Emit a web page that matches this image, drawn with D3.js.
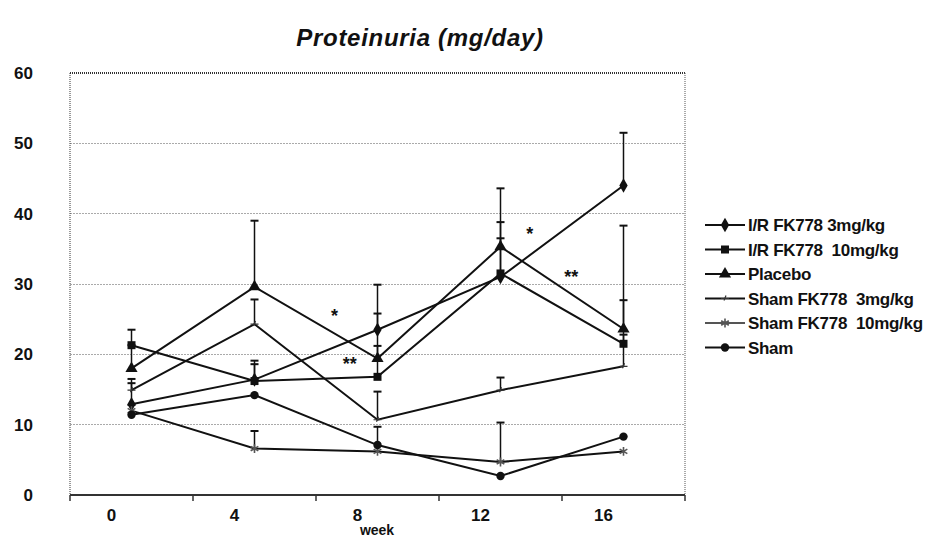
<!DOCTYPE html>
<html>
<head>
<meta charset="utf-8">
<script src="https://cdn.jsdelivr.net/npm/d3@7"></script>
<style>
body { margin: 0; background: #fff; }
svg { display: block; }
text { font-family: "Liberation Sans", Arial, sans-serif; font-weight: bold; fill: #111; }
</style>
</head>
<body>
<svg id="chart" width="927" height="540"></svg>
<script>
var weeks = [0, 4, 8, 12, 16];
var week_labels = ["0", "4", "8", "12", "16"];
var y_ticks = [0, 10, 20, 30, 40, 50, 60];
var x_edges = [-2, 2, 6, 10, 14, 18];

// means and upper SD
var ir_3mg      = [12.9, 16.4, 23.5, 31.0, 44.0];
var ir_3mg_sd   = [3.0, 2.7, 2.3, 5.5, 7.5];
var ir_10mg     = [21.3, 16.2, 16.8, 31.5, 21.5];
var ir_10mg_sd  = [2.2, 2.4, 4.4, 7.3, 6.2];
var placebo     = [18.0, 29.6, 19.4, 35.3, 23.6];
var placebo_sd  = [3.3, 9.4, 10.5, 8.3, 14.7];
var sham_3mg    = [14.9, 24.3, 10.7, 14.9, 18.3];
var sham_3mg_sd = [1.6, 3.5, 4.0, 1.8, 4.5];
var sham_10mg   = [12.0, 6.6, 6.2, 4.7, 6.2];
var sham_10mg_sd= [0.8, 2.5, 3.5, 5.6, 0];
var sham        = [11.4, 14.2, 7.1, 2.7, 8.3];
var sham_sd     = [0, 0, 0, 0, 0];

var series_names = ["I/R FK778 3mg/kg", "I/R FK778  10mg/kg", "Placebo", "Sham FK778  3mg/kg", "Sham FK778  10mg/kg", "Sham"];
var series_vals = [ir_3mg, ir_10mg, placebo, sham_3mg, sham_10mg, sham];
var series_sd = [ir_3mg_sd, ir_10mg_sd, placebo_sd, sham_3mg_sd, sham_10mg_sd, sham_sd];
var series_marks = ["diamond", "square", "triangle", "tick", "asterisk", "circle"];

var stars = [{"week": 6.6, "value": 26.0, "txt": "*"},
             {"week": 7.1, "value": 19.2, "txt": "**"},
             {"week": 12.95, "value": 37.7, "txt": "*"},
             {"week": 14.3, "value": 31.6, "txt": "**"}];

var svg = d3.select("#chart");
var x = d3.scaleLinear().domain([-2, 18]).range([70, 685]);
var y = d3.scaleLinear().domain([0, 60]).range([495, 73]);

svg.append("text").attr("x", 420).attr("y", 46).attr("text-anchor", "middle")
   .style("font-size", "24px").style("font-style", "italic").style("letter-spacing", "0.7px")
   .text("Proteinuria (mg/day)");

// grid
svg.append("g").selectAll("line").data(y_ticks.filter(function(d) { return d > 0 && d < 60; }))
   .enter().append("line")
   .attr("x1", x(-2)).attr("x2", x(18))
   .attr("y1", function(d) { return y(d); }).attr("y2", function(d) { return y(d); })
   .attr("stroke", "#aaa").attr("stroke-dasharray", "2 1").style("shape-rendering", "crispEdges");

// frame
svg.append("line").attr("x1", x(-2)).attr("x2", x(18)).attr("y1", y(60)).attr("y2", y(60))
   .attr("stroke", "#333").attr("stroke-width", 2).attr("stroke-dasharray", "1 1");
svg.append("line").attr("x1", x(18)).attr("x2", x(18)).attr("y1", y(60)).attr("y2", y(0))
   .attr("stroke", "#555").attr("stroke-dasharray", "1 1");
svg.append("line").attr("x1", x(-2)).attr("x2", x(-2)).attr("y1", y(60)).attr("y2", y(0))
   .attr("stroke", "#333").attr("stroke-dasharray", "1 1");
svg.append("line").attr("x1", x(-2)).attr("x2", x(18)).attr("y1", y(0)).attr("y2", y(0))
   .attr("stroke", "#333").attr("stroke-width", 2);

svg.append("g").selectAll("line").data(x_edges).enter().append("line")
   .attr("x1", function(d) { return x(d); }).attr("x2", function(d) { return x(d); })
   .attr("y1", y(0)).attr("y2", y(0) + 6).attr("stroke", "#333").attr("stroke-width", 1.5);

svg.append("g").selectAll("text").data(y_ticks).enter().append("text")
   .attr("x", 33).attr("y", function(d) { return y(d) + 6; })
   .attr("text-anchor", "end").style("font-size", "17px")
   .text(function(d) { return d; });

svg.append("g").selectAll("text").data(weeks).enter().append("text")
   .attr("x", function(d) { return x(d - 0.65); }).attr("y", 521)
   .attr("text-anchor", "middle").style("font-size", "17px")
   .text(function(d, i) { return week_labels[i]; });

svg.append("text").attr("x", 377).attr("y", 535).attr("text-anchor", "middle")
   .style("font-size", "14px").text("week");

function draw_mark(g, kind, cx, cy) {
   if (kind == "diamond") {
      g.append("path").attr("d", d3.symbol().type(d3.symbolDiamond).size(60)())
         .attr("transform", "translate(" + cx + "," + cy + ")").attr("fill", "#111");
   } else if (kind == "square") {
      g.append("path").attr("d", d3.symbol().type(d3.symbolSquare).size(64)())
         .attr("transform", "translate(" + cx + "," + cy + ")").attr("fill", "#111");
   } else if (kind == "triangle") {
      g.append("path").attr("d", d3.symbol().type(d3.symbolTriangle).size(64)())
         .attr("transform", "translate(" + cx + "," + cy + ")").attr("fill", "#111");
   } else if (kind == "circle") {
      g.append("circle").attr("cx", cx).attr("cy", cy).attr("r", 4.2).attr("fill", "#111");
   } else if (kind == "asterisk") {
      g.append("path").attr("d", d3.symbol().type(d3.symbolAsterisk).size(55)())
         .attr("transform", "translate(" + cx + "," + cy + ")")
         .attr("stroke", "#555").attr("stroke-width", 1.6).attr("fill", "none");
   } else {
      g.append("path").attr("d", "M-4,0L4,0M-1,2L1,-3")
         .attr("transform", "translate(" + cx + "," + cy + ")")
         .attr("stroke", "#333").attr("stroke-width", 1.2).attr("fill", "none");
   }
}

var line_gen = d3.line().x(function(d, i) { return x(weeks[i]); }).y(function(d) { return y(d); });

series_vals.forEach(function(vals, s) {
   var g = svg.append("g").attr("class", "series");
   // error bars (upper only)
   vals.forEach(function(v, i) {
      var sd = series_sd[s][i];
      if (sd <= 0) return;
      g.append("line").attr("x1", x(weeks[i])).attr("x2", x(weeks[i]))
         .attr("y1", y(v)).attr("y2", y(v + sd)).attr("stroke", "#111").attr("stroke-width", 1.5);
      g.append("line").attr("x1", x(weeks[i]) - 4).attr("x2", x(weeks[i]) + 4)
         .attr("y1", y(v + sd)).attr("y2", y(v + sd)).attr("stroke", "#111").attr("stroke-width", 2);
   });
   g.append("path").datum(vals).attr("d", line_gen)
      .attr("fill", "none").attr("stroke", "#111").attr("stroke-width", 2);
   vals.forEach(function(v, i) { draw_mark(g, series_marks[s], x(weeks[i]), y(v)); });
});

svg.append("g").selectAll("text").data(stars).enter().append("text")
   .attr("x", function(d) { return x(d.week); }).attr("y", function(d) { return y(d.value); })
   .attr("dy", "0.55em").attr("text-anchor", "middle").style("font-size", "18px")
   .text(function(d) { return d.txt; });

// legend
var legend = svg.append("g").attr("transform", "translate(705,225)");
series_names.forEach(function(name, i) {
   var row = legend.append("g").attr("transform", "translate(0," + (i * 24.5) + ")");
   row.append("line").attr("x1", 0).attr("x2", 40).attr("y1", 0).attr("y2", 0)
      .attr("stroke", i == 4 ? "#555" : "#111").attr("stroke-width", 2);
   draw_mark(row, series_marks[i], 20, 0);
   row.append("text").attr("x", 43).attr("y", 6).style("font-size", "17px")
      .style("letter-spacing", "-0.3px").style("white-space", "pre").text(name);
});
</script>
</body>
</html>
